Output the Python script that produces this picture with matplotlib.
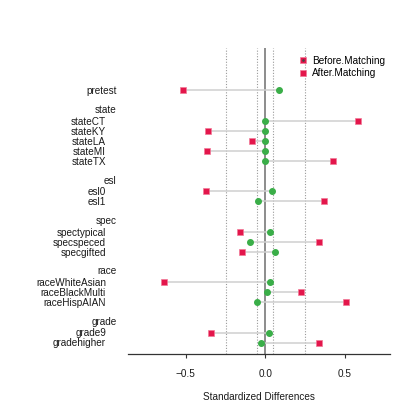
import numpy as np
import matplotlib
matplotlib.use("Agg")
import matplotlib.pyplot as plt
from matplotlib.lines import Line2D

plt.rcParams['font.family'] = ['Liberation Sans', 'DejaVu Sans']

# covariates, top to bottom
var_names = ["pretest",
             "stateCT", "stateKY", "stateLA", "stateMI", "stateTX",
             "esl0", "esl1",
             "spectypical", "specspeced", "specgifted",
             "raceWhiteAsian", "raceBlackMulti", "raceHispAIAN",
             "grade9", "gradehigher"]
var_group = ["pretest",
             "state", "state", "state", "state", "state",
             "esl", "esl",
             "spec", "spec", "spec",
             "race", "race", "race",
             "grade", "grade"]
group_names = ["pretest", "state", "esl", "spec", "race", "grade"]

# standardized differences
before = [-0.518,
          0.581, -0.363, -0.082, -0.365, 0.424,
          -0.373, 0.369,
          -0.161, 0.340, -0.147,
          -0.639, 0.224, 0.505,
          -0.342, 0.338]
after = [0.084,
         0.0, 0.0, 0.0, 0.0, 0.0,
         0.042, -0.046,
         0.027, -0.099, 0.061,
         0.031, 0.010, -0.055,
         0.025, -0.029]

ref_lines = [-0.25, -0.05, 0.05, 0.25]

red = "#E3164B"
green = "#3AAE48"

# y layout: items 1 apart, groups 3.04 apart, header above first item
ypos = []
headers = []
y = 0.0
for i, g in enumerate(var_group):
    if i > 0:
        if g != var_group[i - 1]:
            y += 3.04
            headers.append((g, y - 1.18))
        else:
            y += 1.0
    ypos.append(y)
ypos = np.array(ypos)

fig = plt.figure(figsize=(4.15, 4.15), dpi=100)
ax = fig.add_axes([128.3 / 415, 1 - 354 / 415, 262 / 415, 306 / 415])

for xv in ref_lines:
    ax.axvline(xv, color="#9a9a9a", lw=0.8, ls=(0, (1, 1.5)), zorder=1)
ax.axvline(0, color="#8c8c8c", lw=1.4, zorder=1)

for yy, b, a in zip(ypos, before, after):
    ax.plot([b, a], [yy, yy], color="#cfcfcf", lw=1.1, zorder=2, solid_capstyle="butt")

ax.plot(after, ypos, ls="none", marker="o", ms=4.0, color=green, mec=green, zorder=3)
ax.plot(before, ypos, ls="none", marker="s", ms=4.3, color=red, mec="#F27A98", mew=0.5, zorder=4)

ax.set_xlim(-0.862, 0.786)
ax.set_ylim(26.35, -4.25)

# row labels
ytr = ax.get_yaxis_transform()
for name, g, yy in zip(var_names, var_group, ypos):
    xt = -0.0443 if g == "pretest" else -0.085
    ax.text(xt, yy, name, transform=ytr, ha="right", va="center_baseline",
            fontsize=7.2, color="#1a1a1a")
for g, yy in headers:
    ax.text(-0.0443, yy, g, transform=ytr, ha="right", va="center_baseline",
            fontsize=7.2, color="#1a1a1a")

for s in ["top", "left", "right"]:
    ax.spines[s].set_visible(False)
ax.spines["bottom"].set_color("#333333")
ax.spines["bottom"].set_linewidth(0.9)
ax.set_yticks([])
ax.set_xticks([-0.5, 0.0, 0.5])
ax.set_xticklabels(["\u22120.5", "0.0", "0.5"])
ax.tick_params(axis="x", length=3, width=0.8, color="#333333", pad=7.5,
               labelsize=7.2, labelcolor="#1a1a1a")
ax.set_xlabel("Standardized Differences", fontsize=7.2, color="#1a1a1a", labelpad=10)

h1 = (Line2D([], [], ls="none", marker="s", ms=4.3, color=red, mec="#F27A98", mew=0.5),
      Line2D([], [], ls="none", marker="o", ms=0.9, color="#444444"))
h2 = Line2D([], [], ls="none", marker="s", ms=4.3, color=red, mec="#F27A98", mew=0.5)
ax.legend([h1, h2], ["Before.Matching", "After.Matching"],
          loc="upper left", bbox_to_anchor=(298 / 415, 1 - 55.5 / 415),
          bbox_transform=fig.transFigure, frameon=False, fontsize=7.2,
          handlelength=0.9, handletextpad=0.5, labelspacing=0.3, borderpad=0,
          borderaxespad=0)

fig.savefig("out.png", dpi=100)
